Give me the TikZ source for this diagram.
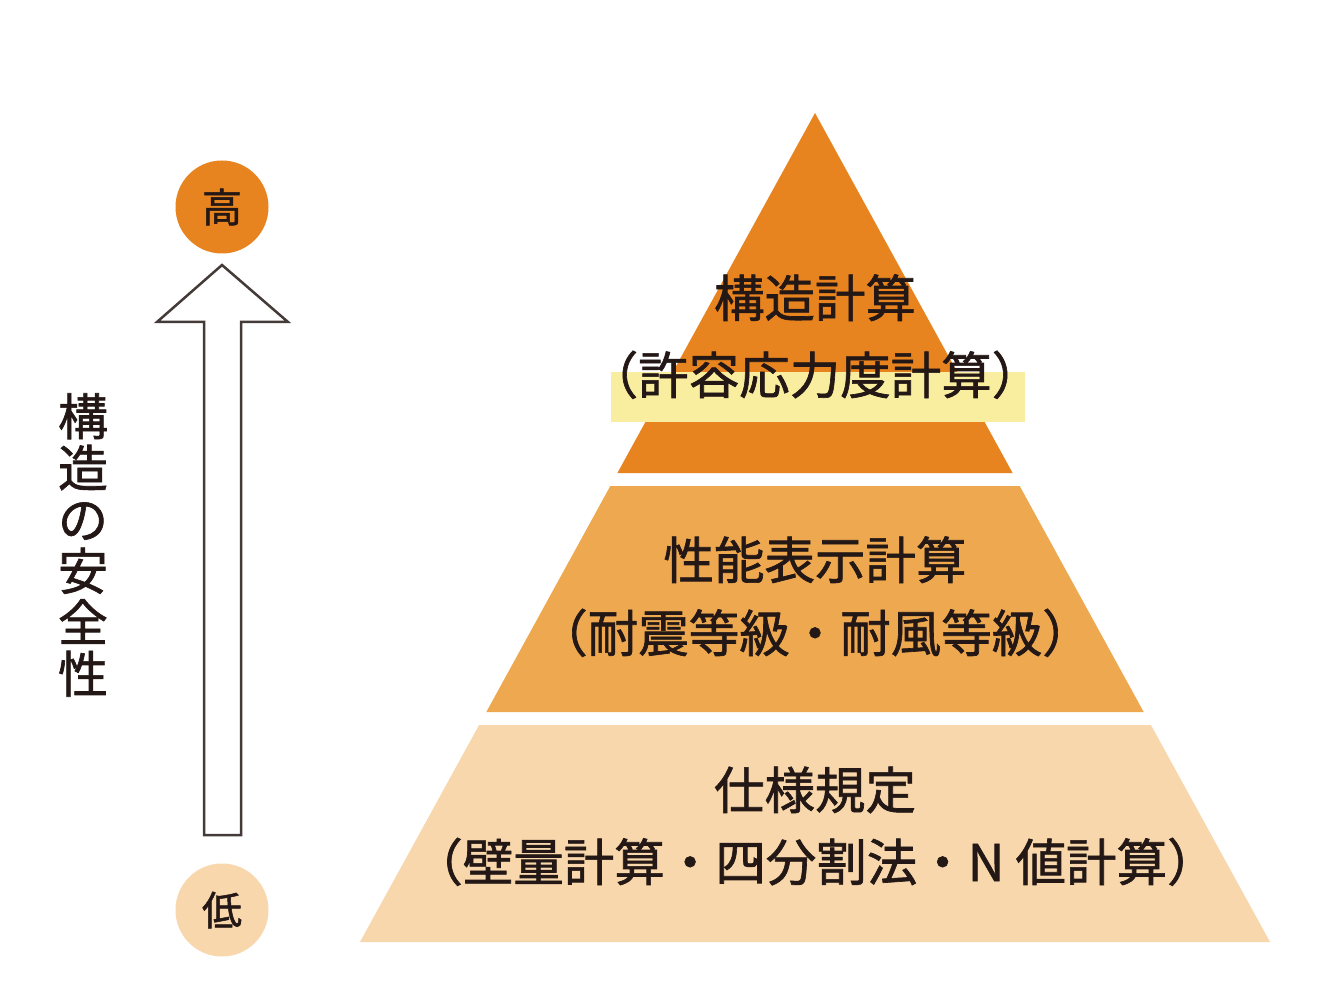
\documentclass[tikz,border=0pt]{standalone}
\usepackage{fontspec}
\setmainfont{Noto Sans CJK JP}[UprightFeatures={FakeBold=1.3}]
\definecolor{dorange}{HTML}{E8841F}
\definecolor{morange}{HTML}{EEA950}
\definecolor{lorange}{HTML}{F7D7AB}
\definecolor{yband}{HTML}{F9EDA0}
\definecolor{ink}{HTML}{231815}
\tikzset{
  jline/.style={inner sep=0pt, text=ink, font=\fontsize{50.5}{51}\selectfont, text height=44pt, text depth=6pt},
  circ/.style={circle, minimum size=93pt, inner sep=0pt, text=ink, font=\fontsize{40}{40}\selectfont},
  vtext/.style={inner sep=0pt, text=ink, align=center, font=\fontsize{50}{51.5}\selectfont},
  bigarrow/.style={draw=ink!85, line width=2.5pt, fill=white, line join=miter}
}
\begin{document}
\begin{tikzpicture}[x=1pt,y=-1pt]
\useasboundingbox (0,0) rectangle (1344,1008);
\fill[white] (0,0) rectangle (1344,1008);
% pyramid tiers
\fill[dorange] (815,113) -- (1012.6,473) -- (617.4,473) -- cycle;
\fill[morange] (610.3,486) -- (1019.7,486) -- (1143.7,712) -- (486.3,712) -- cycle;
\fill[lorange] (479.1,725) -- (1150.9,725) -- (1270,942) -- (360,942) -- cycle;
\fill[yband] (611,372) rectangle (1025,422);
% texts
\node[jline] (t1) at (815,298) {構造計算};
\node[jline] (t2) at (815,375) {（許容応力度計算）};
\node[jline] (m1) at (815,560) {性能表示計算};
\node[jline] (m2) at (815,633) {（耐震等級・耐風等級）};
\node[jline] (b1) at (815,790) {仕様規定};
\node[jline] (b2) at (815,862) {（壁量計算・四分割法・N 値計算）};
% arrow
\draw[bigarrow] (222,265) -- (288,322) -- (241,322) -- (241,835) -- (204,835) -- (204,322) -- (157,322) -- cycle;
\node[circ, fill=dorange] (hi) at (222,207) {高};
\node[circ, fill=lorange] (lo) at (222,910) {低};
\node[vtext] (v) at (83,545) {構\\造\\の\\安\\全\\性};
\end{tikzpicture}
\end{document}
